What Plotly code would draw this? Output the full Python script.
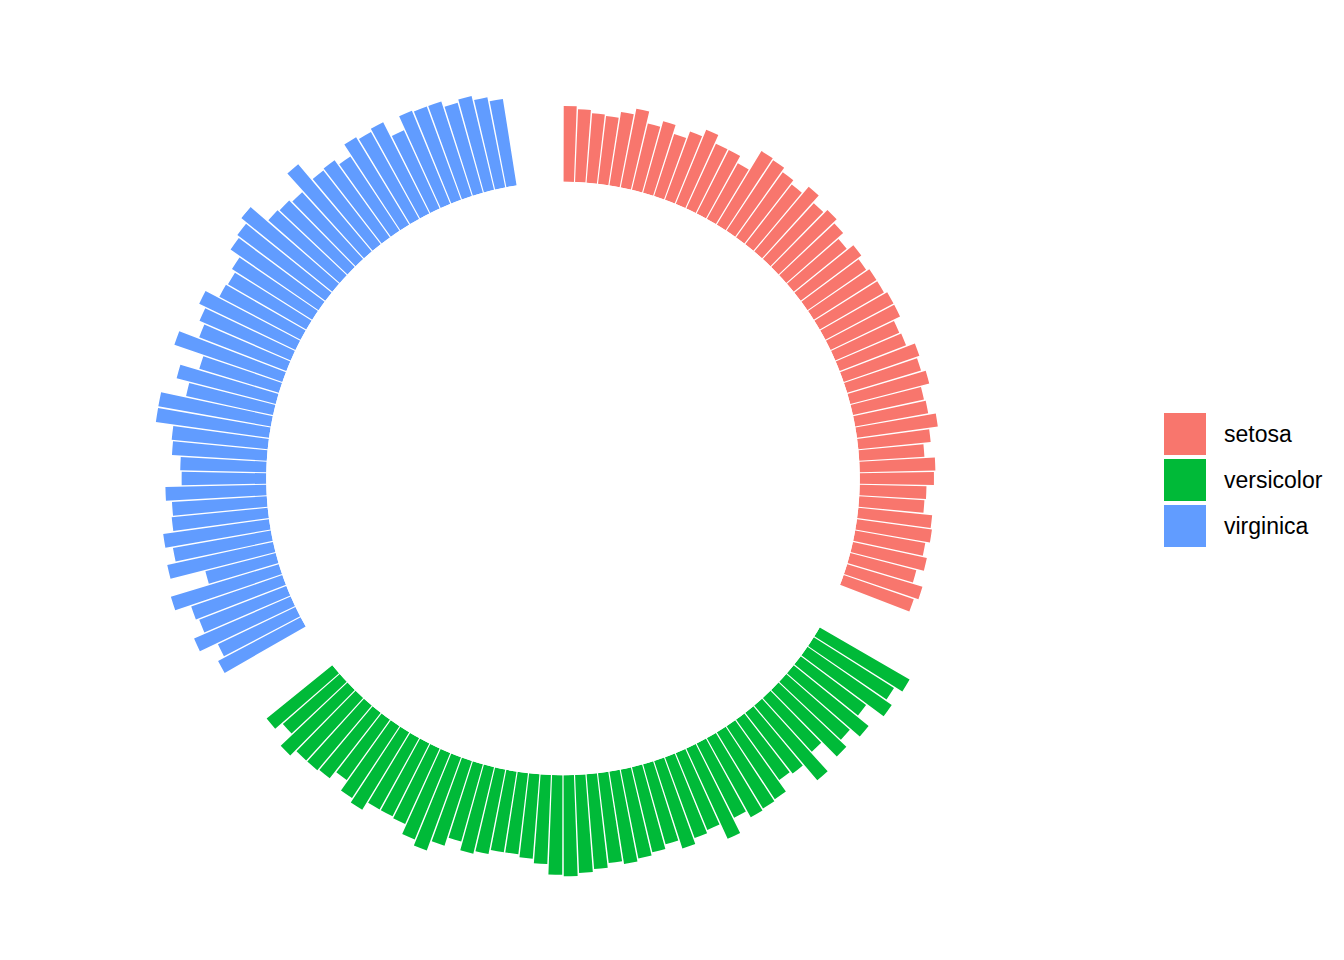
"""
Circular grouped bar chart of iris sepal length
"""

import plotly.graph_objects as go

# data: iris Sepal.Length by species
species = ['setosa', 'versicolor', 'virginica']
colors = ['#F8766D', '#00BA38', '#619CFF']

setosa = [5.1, 4.9, 4.7, 4.6, 5.0, 5.4, 4.6, 5.0, 4.4, 4.9,
          5.4, 4.8, 4.8, 4.3, 5.8, 5.7, 5.4, 5.1, 5.7, 5.1,
          5.4, 5.1, 4.6, 5.1, 4.8, 5.0, 5.0, 5.2, 5.2, 4.7,
          4.8, 5.4, 5.2, 5.5, 4.9, 5.0, 5.5, 4.9, 4.4, 5.1,
          5.0, 4.5, 4.4, 5.0, 5.1, 4.8, 5.1, 4.6, 5.3, 5.0]
versicolor = [7.0, 6.4, 6.9, 5.5, 6.5, 5.7, 6.3, 4.9, 6.6, 5.2,
              5.0, 5.9, 6.0, 6.1, 5.6, 6.7, 5.6, 5.8, 6.2, 5.6,
              5.9, 6.1, 6.3, 6.1, 6.4, 6.6, 6.8, 6.7, 6.0, 5.7,
              5.5, 5.5, 5.8, 6.0, 5.4, 6.0, 6.7, 6.3, 5.6, 5.5,
              5.5, 6.1, 5.8, 5.0, 5.6, 5.7, 5.7, 6.2, 5.1, 5.7]
virginica = [6.3, 5.8, 7.1, 6.3, 6.5, 7.6, 4.9, 7.3, 6.7, 7.2,
             6.5, 6.4, 6.8, 5.7, 5.8, 6.4, 6.5, 7.7, 7.7, 6.0,
             6.9, 5.6, 7.7, 6.3, 6.7, 7.2, 6.2, 6.1, 6.4, 7.2,
             7.4, 7.9, 6.4, 6.3, 6.1, 7.7, 6.3, 6.4, 6.0, 6.9,
             6.7, 6.9, 5.8, 6.8, 6.7, 6.7, 6.3, 6.5, 6.2, 5.9]

values = [setosa, versicolor, virginica]
empty_bar = 4          # empty slots after each group
y_min = -20            # inner offset (ylim lower bound)
y_max = max(max(v) for v in values)

n_total = sum(len(v) for v in values) + empty_bar * len(values)
step = 360 / n_total

W, H = 1344, 960
# the page body adds an 8px offset, positions below are in figure pixels
cx, cy, rad = 555, 489.5, 414

fig = go.Figure()

pos = 0
for name, vals, col in zip(species, values, colors):
    ids = list(range(pos + 1, pos + len(vals) + 1))
    theta = [(i - 0.5) * step for i in ids]
    fig.add_trace(go.Barpolar(
        r=vals,
        theta=theta,
        width=0.9 * step,
        name=name,
        marker=dict(color=col, line=dict(width=0)),
        showlegend=False
    ))
    pos += len(vals) + empty_bar

# legend drawn as large keys like ggplot
key_x0, key_size, key_gap = 1156, 42, 46
key_top = 960 - 405   # top of first key, from bottom
for k, (name, col) in enumerate(zip(species, colors)):
    top = key_top - k * key_gap
    fig.add_shape(type='rect', xref='paper', yref='paper',
                  x0=key_x0 / W, x1=(key_x0 + key_size) / W,
                  y0=(top - key_size) / H, y1=top / H,
                  fillcolor=col, line=dict(width=0))
    fig.add_annotation(x=(key_x0 + key_size + 16) / W,
                       y=(top - key_size / 2) / H,
                       xref='paper', yref='paper',
                       text=name, showarrow=False, xanchor='left',
                       yanchor='middle',
                       font=dict(size=23, color='black',
                                 family='Liberation Sans, Arial, sans-serif'))

fig.update_layout(
    width=W, height=H,
    margin=dict(l=0, r=0, t=0, b=0),
    paper_bgcolor='white',
    plot_bgcolor='white',
    polar=dict(
        domain=dict(x=[(cx - rad) / W, (cx + rad) / W],
                    y=[(cy - rad) / H, (cy + rad) / H]),
        bgcolor='white',
        hole=-y_min / (y_max - y_min),
        radialaxis=dict(range=[0, y_max], visible=False, showgrid=False),
        angularaxis=dict(rotation=90, direction='clockwise', visible=False,
                         showgrid=False),
        bargap=0
    ),
    showlegend=False
)

fig.write_html("out.html")
